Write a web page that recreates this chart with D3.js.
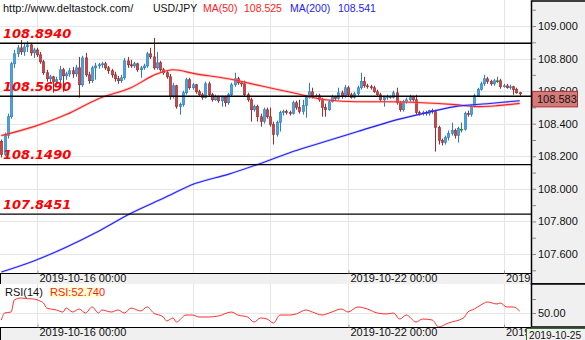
<!DOCTYPE html>
<html>
<head>
<meta charset="utf-8">
<script src="https://cdn.jsdelivr.net/npm/d3@7"></script>
<style>
  html, body { margin: 0; padding: 0; background: #fff; }
  svg { display: block; }
  text { font-family: "Liberation Sans", Arial, sans-serif; }
</style>
</head>
<body>
<svg id="chart" width="585" height="340"></svg>
<script>
// USD/JPY hourly candles, 2019-10-15 13:00 .. 2019-10-24 05:00 (weekend hours skipped)
const openPx = [
 108.291,108.211,108.327,108.443,108.768,108.829,108.866,108.841,108.872,108.884,
 108.835,108.853,108.823,108.780,108.713,108.676,108.688,108.658,108.670,108.731,
 108.694,108.706,108.725,108.706,108.743,108.639,108.804,108.700,108.664,108.743,
 108.755,108.762,108.768,108.743,108.725,108.700,108.676,108.664,108.682,108.786,
 108.762,108.755,108.768,108.731,108.743,108.755,108.829,108.810,108.743,108.774,
 108.731,108.713,108.688,108.566,108.633,108.505,108.517,108.590,108.670,108.621,
 108.639,108.596,108.578,108.560,108.645,108.578,108.547,108.566,108.541,108.560,
 108.529,108.578,108.639,108.676,108.651,108.645,108.578,108.547,108.486,108.505,
 108.443,108.413,108.486,108.443,108.395,108.333,108.407,108.468,108.474,108.468,
 108.462,108.529,108.499,108.474,108.511,108.560,108.596,108.566,108.572,108.547,
 108.499,108.486,108.535,108.566,108.554,108.590,108.566,108.621,108.578,108.560,
 108.584,108.621,108.658,108.633,108.627,108.621,108.596,108.578,108.547,108.560,
 108.566,108.560,108.590,108.529,108.486,108.535,108.547,108.566,108.547,108.468,
 108.462,108.468,108.462,108.480,108.474,108.376,108.297,108.284,108.315,108.339,
 108.358,108.327,108.366,108.366,108.462,108.456,108.505,108.572,108.609,108.645,
 108.676,108.658,108.645,108.664,108.664,108.627,108.633,108.621,108.627,108.609,
 108.590
];
const highPx = [
 108.303,108.346,108.462,108.780,108.853,108.884,108.914,108.890,108.908,108.896,
 108.866,108.866,108.841,108.792,108.731,108.700,108.694,108.688,108.755,108.743,
 108.719,108.743,108.749,108.762,108.810,108.817,108.835,108.719,108.755,108.774,
 108.774,108.780,108.780,108.755,108.737,108.719,108.694,108.700,108.804,108.810,
 108.792,108.780,108.774,108.755,108.768,108.841,108.866,108.927,108.841,108.786,
 108.743,108.725,108.706,108.651,108.639,108.529,108.603,108.682,108.682,108.651,
 108.645,108.609,108.590,108.658,108.658,108.590,108.578,108.572,108.572,108.572,
 108.590,108.651,108.713,108.688,108.658,108.664,108.590,108.560,108.517,108.517,
 108.462,108.499,108.499,108.499,108.413,108.419,108.480,108.486,108.486,108.480,
 108.541,108.541,108.547,108.547,108.572,108.651,108.621,108.584,108.584,108.560,
 108.523,108.547,108.578,108.572,108.621,108.603,108.639,108.633,108.590,108.596,
 108.633,108.713,108.688,108.645,108.639,108.633,108.609,108.590,108.572,108.578,
 108.572,108.603,108.621,108.541,108.547,108.560,108.578,108.572,108.578,108.480,
 108.480,108.480,108.486,108.492,108.486,108.388,108.309,108.327,108.358,108.407,
 108.370,108.382,108.407,108.474,108.480,108.517,108.584,108.621,108.658,108.700,
 108.688,108.670,108.676,108.688,108.676,108.645,108.645,108.639,108.633,108.621,
 108.596
];
const lowPx = [
 108.193,108.199,108.309,108.431,108.743,108.810,108.823,108.817,108.841,108.817,
 108.804,108.810,108.768,108.700,108.658,108.645,108.590,108.639,108.651,108.596,
 108.670,108.688,108.682,108.688,108.560,108.627,108.688,108.645,108.651,108.670,
 108.737,108.743,108.731,108.706,108.682,108.658,108.645,108.651,108.670,108.743,
 108.743,108.743,108.719,108.682,108.731,108.743,108.798,108.731,108.731,108.719,
 108.700,108.676,108.547,108.554,108.492,108.456,108.505,108.578,108.609,108.609,
 108.584,108.566,108.547,108.554,108.566,108.535,108.541,108.529,108.505,108.505,
 108.517,108.566,108.627,108.639,108.627,108.566,108.535,108.413,108.474,108.413,
 108.382,108.401,108.431,108.382,108.272,108.321,108.352,108.450,108.456,108.450,
 108.456,108.486,108.462,108.456,108.437,108.554,108.554,108.560,108.535,108.443,
 108.443,108.480,108.529,108.541,108.547,108.554,108.560,108.566,108.554,108.554,
 108.572,108.609,108.621,108.615,108.609,108.590,108.572,108.535,108.505,108.547,
 108.554,108.554,108.517,108.474,108.474,108.523,108.535,108.535,108.456,108.450,
 108.450,108.450,108.450,108.462,108.229,108.272,108.266,108.272,108.297,108.327,
 108.309,108.284,108.346,108.358,108.443,108.443,108.499,108.566,108.603,108.633,
 108.645,108.633,108.633,108.651,108.615,108.621,108.615,108.609,108.578,108.584,
 108.572
];
const closePx = [
 108.211,108.327,108.443,108.768,108.829,108.866,108.841,108.872,108.884,108.835,
 108.853,108.823,108.780,108.713,108.676,108.688,108.658,108.670,108.731,108.694,
 108.706,108.725,108.706,108.743,108.639,108.804,108.700,108.664,108.743,108.755,
 108.762,108.768,108.743,108.725,108.700,108.676,108.664,108.682,108.786,108.762,
 108.755,108.768,108.731,108.743,108.755,108.829,108.810,108.743,108.774,108.731,
 108.713,108.688,108.566,108.633,108.505,108.517,108.590,108.670,108.621,108.639,
 108.596,108.578,108.560,108.645,108.578,108.547,108.566,108.541,108.560,108.529,
 108.578,108.639,108.676,108.651,108.645,108.578,108.547,108.486,108.505,108.443,
 108.413,108.486,108.443,108.395,108.333,108.407,108.468,108.474,108.468,108.462,
 108.529,108.499,108.474,108.511,108.560,108.596,108.566,108.572,108.547,108.499,
 108.486,108.535,108.566,108.554,108.590,108.566,108.621,108.578,108.560,108.584,
 108.621,108.658,108.633,108.627,108.621,108.596,108.578,108.547,108.560,108.566,
 108.560,108.590,108.529,108.486,108.535,108.547,108.566,108.547,108.468,108.462,
 108.468,108.462,108.480,108.474,108.376,108.297,108.284,108.315,108.339,108.358,
 108.327,108.370,108.366,108.462,108.456,108.505,108.572,108.609,108.645,108.676,
 108.658,108.645,108.664,108.664,108.627,108.633,108.621,108.627,108.609,108.590,
 108.583
];

// Moving averages, read at candle indices
const ma50At  = [0,10,20,30,40,48,53,60,70,80,90,100,110,120,130,140,147,153,160];
const ma50    = [108.327,108.382,108.456,108.554,108.621,108.706,108.731,108.706,108.676,108.633,
                 108.590,108.547,108.535,108.535,108.529,108.517,108.505,108.511,108.525];
const ma200At = [0,10,20,30,40,50,60,70,80,90,100,110,120,130,140,150,160];
const ma200   = [107.489,107.557,107.642,107.740,107.850,107.942,108.034,108.089,108.156,108.229,
                 108.291,108.352,108.413,108.462,108.505,108.523,108.541];

// RSI(14), read at candle indices
const rsiAt = [0,1,3,4,6,8,10,12,13,14,17,19,20,22,24,26,28,30,31,34,36,38,40,43,45,47,50,51,53,54,
               57,59,61,64,67,71,73,76,78,80,82,84,86,89,91,94,96,99,102,105,107,110,113,116,119,121,
               123,125,128,130,133,135,138,139,142,143,144,146,148,150,153,154,156,158,160];
const rsiVals = [40,50,51.4,68.6,71.4,70.5,70,67,64.3,57.1,54.3,51.4,57.1,51.4,55.7,50,58.6,50,54.3,51.4,
                 54.3,50,57.1,52.9,58.6,50,44.3,38.6,42.9,37.1,47.1,47.1,44.3,44.3,45.7,51.4,47.1,44.3,37.1,42.9,
                 41.4,35.7,47.1,47.1,48.6,54.3,51.4,47.1,51.4,55.7,51.4,58.6,55.7,50,48.6,50,41.4,47.1,37.1,41.4,
                 40,30,35.7,37.1,41.4,44.3,51.4,55.7,61.4,65.7,62.9,64.3,58.6,58.6,52.74];

// Support / resistance levels
const levels = [108.8940, 108.5690, 108.1490, 107.8451];

// Axis ticks
const priceMinorTicks = [109.1,109.0,108.9,108.8,108.7,108.6,108.5,108.4,108.3,108.2,108.1,108.0,107.9,107.8,107.7,107.6,107.5];
const priceLabelTicks = [109.0,108.8,108.6,108.4,108.2,108.0,107.8,107.6];
const gridIdx = [11, 59, 83, 107, 155];
const timeTickIdx = [11, 107, 155];
const timeTickLabels = ["2019-10-16 00:00", "2019-10-22 00:00", "2019-10-24 00:00"];
const rsiTicks = [70, 50];
const rsiLabelTicks = [50];

const symbol = "USD/JPY";
const siteUrl = "http://www.deltastock.com/";
const lastPrice = 108.583, lastMa50 = 108.525, lastMa200 = 108.541, lastRsi = 52.740;
const cursorDate = "2019-10-25";

// ---------------- layout ----------------
const W = 585, H = 340;
const plotRight = 531;
const mainBottom = 273, stripBottom = 284;
const rsiTop = 284, rsiBottom = 327;

const svg = d3.select("#chart");
svg.append("rect").attr("width", W).attr("height", H).attr("fill", "#fff");

const x = d3.scaleLinear().domain([11, 107]).range([37, 348]);
const y = d3.scaleLinear().domain([107.6, 109.0]).range([254, 26]);
const yR = d3.scaleLinear().domain([30, 50]).range([327, 313]);

const defs = svg.append("defs");
defs.append("clipPath").attr("id", "clipMain")
  .append("rect").attr("x", 0).attr("y", 0).attr("width", plotRight).attr("height", mainBottom);
defs.append("clipPath").attr("id", "clipRsi")
  .append("rect").attr("x", 0).attr("y", rsiTop).attr("width", plotRight).attr("height", rsiBottom - rsiTop);

const gridColor = "#e6e6e6";

// ---------------- main panel ----------------
const main = svg.append("g").attr("clip-path", "url(#clipMain)");

main.selectAll("line.hgrid").data(priceLabelTicks).join("line")
  .attr("x1", 0).attr("x2", plotRight)
  .attr("y1", d => Math.round(y(d)) + 0.5).attr("y2", d => Math.round(y(d)) + 0.5)
  .attr("stroke", gridColor);
main.selectAll("line.vgrid").data(gridIdx).join("line")
  .attr("x1", d => Math.round(x(d)) + 0.5).attr("x2", d => Math.round(x(d)) + 0.5)
  .attr("y1", 0).attr("y2", mainBottom)
  .attr("stroke", gridColor);

// candles
const candles = d3.range(closePx.length).map(i => ({
  i, o: openPx[i], h: highPx[i], l: lowPx[i], c: closePx[i]
}));
const upFill = "#4aa3df", upLine = "#2b7fc1";
const dnFill = "#c4494b", dnLine = "#a02c2e";
const flat = "#2e8b2e";
const col = d => d.c > d.o ? upLine : (d.c < d.o ? dnLine : flat);
const fillCol = d => d.c > d.o ? upFill : (d.c < d.o ? dnFill : flat);

const cg = main.append("g");
cg.selectAll("line.wick").data(candles).join("line")
  .attr("x1", d => Math.round(x(d.i)) + 0.5).attr("x2", d => Math.round(x(d.i)) + 0.5)
  .attr("y1", d => y(d.h)).attr("y2", d => y(d.l))
  .attr("stroke", col).attr("stroke-width", 1);
cg.selectAll("rect.body").data(candles).join("rect")
  .attr("x", d => Math.round(x(d.i)) - 0.7)
  .attr("width", 2.4)
  .attr("y", d => Math.min(y(d.o), y(d.c)))
  .attr("height", d => Math.max(1, Math.abs(y(d.o) - y(d.c))))
  .attr("fill", fillCol)
  .attr("stroke", col).attr("stroke-width", 0.6);
// doji cross bars
cg.selectAll("line.doji").data(candles.filter(d => d.c === d.o)).join("line")
  .attr("x1", d => Math.round(x(d.i)) - 1).attr("x2", d => Math.round(x(d.i)) + 2)
  .attr("y1", d => Math.round(y(d.c)) + 0.5).attr("y2", d => Math.round(y(d.c)) + 0.5)
  .attr("stroke", flat);

// moving averages
const lineGen = (xs, vs, sc) => d3.line()
  .x((d, k) => x(xs[k])).y((d) => sc(d))
  .curve(d3.curveMonotoneX)(vs);

main.append("path").attr("d", lineGen(ma50At, ma50, y))
  .attr("fill", "none").attr("stroke", "#ff8080").attr("stroke-opacity", 0.45).attr("stroke-width", 2.6);
main.append("path").attr("d", lineGen(ma50At, ma50, y))
  .attr("fill", "none").attr("stroke", "#f22").attr("stroke-width", 1.1);
main.append("path").attr("d", lineGen(ma200At, ma200, y))
  .attr("fill", "none").attr("stroke", "#8080ff").attr("stroke-opacity", 0.35).attr("stroke-width", 2.4);
main.append("path").attr("d", lineGen(ma200At, ma200, y))
  .attr("fill", "none").attr("stroke", "#22f").attr("stroke-width", 1.1);

// level lines and labels
main.selectAll("line.level").data(levels).join("line")
  .attr("x1", 0).attr("x2", plotRight)
  .attr("y1", d => y(d)).attr("y2", d => y(d))
  .attr("stroke", "#000").attr("stroke-width", 1.4);
main.selectAll("text.level").data(levels).join("text")
  .attr("x", 3).attr("y", d => y(d) - 5.5)
  .attr("fill", "#ff0000")
  .style("font-family", "'DejaVu Sans', Verdana, sans-serif")
  .style("font-weight", "bold").style("font-style", "italic")
  .style("font-size", "13px")
  .text(d => d.toFixed(4));

// header
const header = svg.append("g").style("font-size", "11px");
header.append("text").attr("x", 3).attr("y", 12).attr("fill", "#111").text(siteUrl);
header.append("text").attr("x", 153).attr("y", 12).attr("fill", "#111").style("font-size", "10.5px").text(symbol);
header.append("text").attr("x", 203).attr("y", 12).attr("fill", "#ff1a1a").style("font-size", "10.5px").text("MA(50)");
header.append("text").attr("x", 244).attr("y", 12).attr("fill", "#ff1a1a").style("font-size", "10.5px").text(lastMa50.toFixed(3));
header.append("text").attr("x", 290).attr("y", 12).attr("fill", "#2222ff").style("font-size", "10.5px").text("MA(200)");
header.append("text").attr("x", 338).attr("y", 12).attr("fill", "#2222ff").style("font-size", "10.5px").text(lastMa200.toFixed(3));

// ---------------- time strip under main panel ----------------
const strip = svg.append("g");
strip.append("rect").attr("x", 0).attr("y", mainBottom).attr("width", plotRight).attr("height", stripBottom - mainBottom)
  .attr("fill", "#f0f0f0");
strip.append("line").attr("x1", 0).attr("x2", plotRight).attr("y1", mainBottom + 0.5).attr("y2", mainBottom + 0.5)
  .attr("stroke", "#000");
strip.append("line").attr("x1", 0.5).attr("x2", 0.5).attr("y1", mainBottom).attr("y2", stripBottom).attr("stroke", "#000");

const xAxisTop = d3.axisBottom(x).tickValues(timeTickIdx)
  .tickFormat((d, k) => timeTickLabels[k]).tickSize(-3).tickPadding(1);
const xa1 = strip.append("g").attr("transform", `translate(0,${mainBottom + 0.5})`).call(xAxisTop);
xa1.select(".domain").remove();
xa1.selectAll(".tick line").attr("stroke", "#999").attr("transform", "translate(0.5,0)");
xa1.selectAll(".tick text").attr("text-anchor", "start").attr("dx", 2)
  .attr("fill", "#111").style("font-size", "11px").style("font-family", "'Liberation Sans', Arial, sans-serif");

// ---------------- RSI panel ----------------
const rsiG = svg.append("g").attr("clip-path", "url(#clipRsi)");
rsiG.selectAll("line.vgrid").data(gridIdx).join("line")
  .attr("x1", d => Math.round(x(d)) + 0.5).attr("x2", d => Math.round(x(d)) + 0.5)
  .attr("y1", rsiTop).attr("y2", rsiBottom).attr("stroke", gridColor);
rsiG.selectAll("line.hgrid").data(rsiLabelTicks).join("line")
  .attr("x1", 0).attr("x2", plotRight)
  .attr("y1", d => Math.round(yR(d)) + 0.5).attr("y2", d => Math.round(yR(d)) + 0.5)
  .attr("stroke", gridColor);
rsiG.append("path").attr("d", lineGen(rsiAt, rsiVals, yR))
  .attr("fill", "none").attr("stroke", "#ff3030").attr("stroke-width", 1);

svg.append("text").attr("x", 5).attr("y", 296).attr("fill", "#111").style("font-size", "11px").text("RSI(14)");
const rsiLbl = svg.append("g");
const rsiText = `RSI:${lastRsi.toFixed(3)}`;
rsiLbl.append("rect").attr("x", 49).attr("y", 287).attr("width", 52).attr("height", 11).attr("fill", "#ffffd0");
rsiLbl.append("text").attr("x", 50).attr("y", 296).attr("fill", "#ff1a1a").style("font-size", "11px").text(rsiText);

// bottom strip
const bstrip = svg.append("g");
bstrip.append("rect").attr("x", 0).attr("y", rsiBottom).attr("width", W).attr("height", H - rsiBottom).attr("fill", "#f0f0f0");
bstrip.append("line").attr("x1", 0).attr("x2", plotRight).attr("y1", rsiBottom + 0.5).attr("y2", rsiBottom + 0.5).attr("stroke", "#000");
bstrip.append("line").attr("x1", 0.5).attr("x2", 0.5).attr("y1", rsiBottom).attr("y2", H).attr("stroke", "#000");
const xAxisBot = d3.axisBottom(x).tickValues(timeTickIdx)
  .tickFormat((d, k) => timeTickLabels[k]).tickSize(-3).tickPadding(1);
const xa2 = bstrip.append("g").attr("transform", `translate(0,${rsiBottom + 0.5})`).call(xAxisBot);
xa2.select(".domain").remove();
xa2.selectAll(".tick line").attr("stroke", "#999").attr("transform", "translate(0.5,0)");
xa2.selectAll(".tick text").attr("text-anchor", "start").attr("dx", 2)
  .attr("fill", "#111").style("font-size", "11px").style("font-family", "'Liberation Sans', Arial, sans-serif");

// ---------------- right price axis ----------------
const pax = svg.append("g");
pax.append("rect").attr("x", plotRight + 0.5).attr("y", 1).attr("width", 60).attr("height", stripBottom - 1)
  .attr("fill", "#f0f0f0").attr("stroke", "#000").attr("stroke-width", 1.5);
const yAxis = d3.axisRight(y).tickValues(priceMinorTicks).tickSize(4).tickPadding(2)
  .tickFormat(d => priceLabelTicks.some(t => Math.abs(t - d) < 1e-6) ? d.toFixed(3) : "");
const ya = pax.append("g").attr("transform", `translate(${plotRight + 1},0)`).call(yAxis);
ya.select(".domain").remove();
ya.selectAll(".tick line").attr("stroke", "#888");
ya.selectAll(".tick text").attr("fill", "#111").style("font-size", "11px")
  .style("font-family", "'Liberation Sans', Arial, sans-serif");

// last price tag
const py = y(lastPrice);
pax.append("rect").attr("x", plotRight + 1.5).attr("y", py - 2.5).attr("width", 45).attr("height", 15.5)
  .attr("fill", "#d47a7a").attr("stroke", "#a33").attr("stroke-width", 1);
pax.append("text").attr("x", plotRight + 6).attr("y", py + 5.5).attr("dy", "0.35em")
  .attr("fill", "#111").style("font-size", "11px").text(lastPrice.toFixed(3));

// ---------------- right RSI axis ----------------
const rax = svg.append("g");
rax.append("rect").attr("x", plotRight + 0.5).attr("y", rsiTop).attr("width", 60).attr("height", rsiBottom - rsiTop)
  .attr("fill", "#f0f0f0").attr("stroke", "#000").attr("stroke-width", 1.5);
const rAxis = d3.axisRight(yR).tickValues(rsiTicks).tickSize(4).tickPadding(2)
  .tickFormat(d => rsiLabelTicks.includes(d) ? d.toFixed(2) : "");
const ra = rax.append("g").attr("transform", `translate(${plotRight + 1},0)`).call(rAxis);
ra.select(".domain").remove();
ra.selectAll(".tick line").attr("stroke", "#888");
ra.selectAll(".tick text").attr("fill", "#111").style("font-size", "11px")
  .style("font-family", "'Liberation Sans', Arial, sans-serif");

// cursor date tag
const dt = svg.append("g");
dt.append("rect").attr("x", 526.5).attr("y", 328.5).attr("width", 60).attr("height", 12)
  .attr("fill", "#f0f0f0").attr("stroke", "#2d6b2d").attr("stroke-width", 1);
dt.append("text").attr("x", 529).attr("y", 338.5).attr("fill", "#111").style("font-size", "10.2px").text(cursorDate);
</script>
</body>
</html>
